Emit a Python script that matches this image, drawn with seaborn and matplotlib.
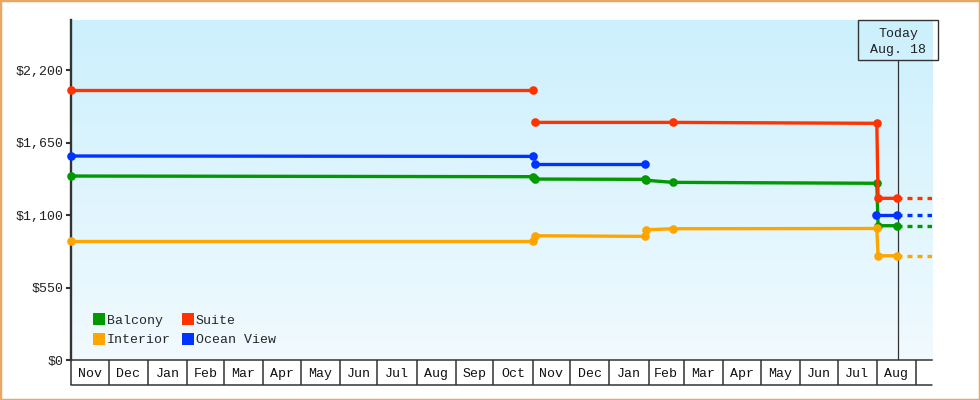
import numpy as np
import pandas as pd
import matplotlib
matplotlib.use("Agg")
import matplotlib.pyplot as plt
import seaborn as sns
from matplotlib.lines import Line2D
from matplotlib.patches import Rectangle

# Price history per cabin type (dates)
# segment ids mark where the line is broken between two price periods
balcony_dates = ["2023-11-01", "2024-11-01", "2024-11-03", "2025-01-29", "2025-01-30",
                 "2025-02-20", "2025-08-01", "2025-08-02", "2025-08-17"]
balcony_prices = [1396, 1391, 1373, 1371, 1364, 1348, 1341, 1019, 1019]
balcony_segment = [0, 0, 1, 1, 1, 1, 1, 1, 1]

interior_dates = ["2023-11-01", "2024-11-01", "2024-11-03", "2025-01-29", "2025-01-30",
                  "2025-02-20", "2025-08-01", "2025-08-02", "2025-08-17"]
interior_prices = [900, 900, 943, 938, 988, 996, 998, 791, 791]
interior_segment = [0, 0, 1, 1, 1, 1, 1, 1, 1]

suite_dates = ["2023-11-01", "2024-11-01", "2024-11-03", "2025-02-20", "2025-08-01",
               "2025-08-02", "2025-08-17"]
suite_prices = [2049, 2049, 1803, 1803, 1796, 1227, 1227]
suite_segment = [0, 0, 1, 1, 1, 1, 1]

ocean_dates = ["2023-11-01", "2024-11-01", "2024-11-03", "2025-01-29", "2025-07-31", "2025-08-17"]
ocean_prices = [1548, 1545, 1485, 1485, 1100, 1100]
ocean_segment = [0, 0, 1, 1, 2, 2]

cabins = ["Balcony", "Interior", "Suite", "Ocean View"]
colors = {"Balcony": "#009900", "Interior": "#FFA500", "Suite": "#FF3300", "Ocean View": "#0033FF"}

y_ticks = [0, 550, 1100, 1650, 2200]
today = pd.Timestamp("2025-08-18")
today_label = "Today\nAug. 18"
x_start = pd.Timestamp("2023-11-01")
x_end = pd.Timestamp("2025-09-13 18:00")

rows = []
for name, dates, prices, segs in [
    ("Balcony", balcony_dates, balcony_prices, balcony_segment),
    ("Interior", interior_dates, interior_prices, interior_segment),
    ("Suite", suite_dates, suite_prices, suite_segment),
    ("Ocean View", ocean_dates, ocean_prices, ocean_segment),
]:
    for d, p, s in zip(dates, prices, segs):
        rows.append({"cabin": name, "date": pd.Timestamp(d), "price": p, "unit": f"{name}-{s}"})
df = pd.DataFrame(rows)

sns.set_theme(style="white")
plt.rcParams["font.family"] = ["Liberation Mono", "DejaVu Sans Mono"]
plt.rcParams["lines.scale_dashes"] = False

fig = plt.figure(figsize=(9.8, 4.0), dpi=100)
pos = [71 / 980, 40 / 400, 861 / 980, 340 / 400]

# gradient background behind the plot
bg = fig.add_axes(pos, zorder=-1)
grad = np.linspace(0, 1, 256).reshape(-1, 1)
top_c = np.array([204, 240, 253]) / 255
bot_c = np.array([241, 250, 255]) / 255
img = top_c[None, None, :] * (1 - grad[..., None]) + bot_c[None, None, :] * grad[..., None]
bg.imshow(img, aspect="auto", extent=[0, 1, 0, 1])
bg.axis("off")

ax = fig.add_axes(pos)
ax.set_facecolor("none")

sns.lineplot(data=df, x="date", y="price", hue="cabin", units="unit", estimator=None,
             palette=colors, hue_order=cabins, marker="o", markersize=6.2,
             markeredgewidth=0, linewidth=2.4, legend=False, ax=ax)
for ln in ax.get_lines():
    ln.set_clip_on(False)
    ln.set_zorder(3)

# dashed projections from the last known price
for name in cabins:
    last = df[df.cabin == name].iloc[-1]
    ax.plot([last.date, x_end], [last.price, last.price], color=colors[name],
            linewidth=2.4, linestyle=(0, (3.6, 3.6)), zorder=2)

ax.set_xlim(x_start, x_end)
ax.set_ylim(0, 2580)

# today marker
ax.axvline(today, ymin=0, ymax=0.882, color="#333333", linewidth=0.9, zorder=1)
half = pd.Timedelta(days=31.7)
ax.add_patch(Rectangle((today - half, 0.882), 2 * half, 0.118, transform=ax.get_xaxis_transform(),
                       fill=False, edgecolor="#333333", linewidth=1.0, clip_on=False, zorder=4))
ax.text(today, 0.936, today_label, transform=ax.get_xaxis_transform(), ha="center", va="center",
        fontsize=9.5, color="#222222", linespacing=1.45, zorder=5)

# y axis
ax.set_yticks(y_ticks)
ax.set_yticklabels([f"${v:,}" for v in y_ticks])
ax.tick_params(axis="y", left=True, direction="out", length=3.6, width=1.5, color="#333333",
               labelsize=9.5, labelcolor="#222222", pad=2)

# month cells on x axis
month_starts = pd.date_range("2023-11-01", x_end, freq="MS")
month_mids = [s + (s + pd.offsets.MonthBegin(1) - s) / 2 for s in month_starts]
month_mids = [m for m in month_mids if m < x_end]
ax.set_xticks(month_starts)
ax.set_xticklabels([])
ax.set_xticks(month_mids, [m.strftime("%b") for m in month_mids], minor=True)
ax.tick_params(axis="x", which="major", bottom=True, direction="out", length=18, width=1.1,
               color="#333333")
ax.tick_params(axis="x", which="minor", bottom=True, length=0, labelsize=9.5,
               labelcolor="#111111", pad=6)
ax.plot([0, 1], [-25 / 340, -25 / 340], transform=ax.transAxes, color="#333333",
        linewidth=1.1, clip_on=False)

for side in ["top", "right"]:
    ax.spines[side].set_visible(False)
ax.spines["left"].set_color("#333333")
ax.spines["left"].set_linewidth(1.7)
ax.spines["bottom"].set_color("#333333")
ax.spines["bottom"].set_linewidth(1.1)
ax.set_xlabel("")
ax.set_ylabel("")

handles = [Line2D([], [], linestyle="none", marker="s", markersize=8, markeredgewidth=0,
                  color=colors[c], label=c) for c in cabins]
ax.legend(handles=handles, ncol=2, loc="lower left", bbox_to_anchor=(0.02, 0.025), frameon=False,
          fontsize=9.5, handlelength=0.8, handletextpad=0.2, columnspacing=0.9, labelspacing=0.55,
          borderaxespad=0)

fig.patches.append(Rectangle((0, 0), 1, 1, transform=fig.transFigure, fill=False,
                             edgecolor="#E8A862", linewidth=2.5))

fig.savefig("out.png", dpi=100)
